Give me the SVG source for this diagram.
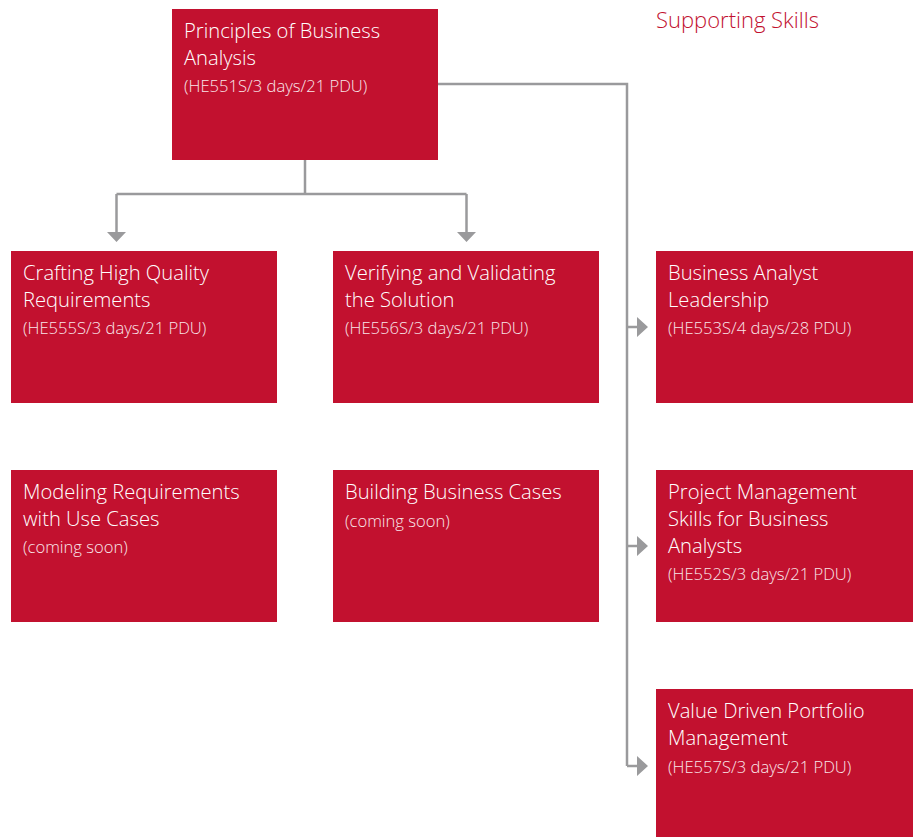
<svg xmlns="http://www.w3.org/2000/svg" width="913" height="837" viewBox="0 0 913 837">
<style>
.box{fill:#c2112f}
.t{font-family:"Open Sans","Liberation Sans",sans-serif;font-size:20.2px;fill:#ffffff;font-weight:300}
.s{font-family:"Open Sans","Liberation Sans",sans-serif;font-size:16.6px;fill:#f9e6ea;font-weight:300}
.h{font-family:"Open Sans","Liberation Sans",sans-serif;font-size:22px;fill:#c2112f;font-weight:300}
.ln{fill:none;stroke:#9a9a9c;stroke-width:2.5}
.ah{fill:#9a9a9c}
</style>
<rect width="913" height="837" fill="#ffffff"/>
<text class="h" x="656" y="28">Supporting Skills</text>
<g id="connectors">
<path class="ln" d="M305 160 V194 M116.5 194 H466.5 M116.5 194 V234 M466.5 194 V234"/>
<path class="ah" d="M107 232 H126 L116.5 242 Z M457 232 H476 L466.5 242 Z"/>
<path class="ln" d="M438 84 H627 V766 M627 327 H639 M627 546 H639 M627 766 H639"/>
<path class="ah" d="M637 317 L648 327 L637 337 Z M637 536 L648 546 L637 556 Z M637 756 L648 766 L637 776 Z"/>
</g>
<g id="n1"><rect class="box" x="172" y="9" width="266" height="151"/>
<text class="t" x="184" y="38">Principles of Business</text><text class="t" x="184" y="65">Analysis</text>
<text class="s" x="184" y="92">(HE551S/3 days/21 PDU)</text></g>
<g id="n2"><rect class="box" x="11" y="251" width="266" height="152"/>
<text class="t" x="23" y="280">Crafting High Quality</text><text class="t" x="23" y="307">Requirements</text>
<text class="s" x="23" y="334">(HE555S/3 days/21 PDU)</text></g>
<g id="n3"><rect class="box" x="333" y="251" width="266" height="152"/>
<text class="t" x="345" y="280">Verifying and Validating</text><text class="t" x="345" y="307">the Solution</text>
<text class="s" x="345" y="334">(HE556S/3 days/21 PDU)</text></g>
<g id="n4"><rect class="box" x="656" y="251" width="257" height="152"/>
<text class="t" x="668" y="280">Business Analyst</text><text class="t" x="668" y="307">Leadership</text>
<text class="s" x="668" y="334">(HE553S/4 days/28 PDU)</text></g>
<g id="n5"><rect class="box" x="11" y="470" width="266" height="152"/>
<text class="t" x="23" y="499">Modeling Requirements</text><text class="t" x="23" y="526">with Use Cases</text>
<text class="s" x="23" y="553">(coming soon)</text></g>
<g id="n6"><rect class="box" x="333" y="470" width="266" height="152"/>
<text class="t" x="345" y="499">Building Business Cases</text>
<text class="s" x="345" y="527">(coming soon)</text></g>
<g id="n7"><rect class="box" x="656" y="470" width="257" height="152"/>
<text class="t" x="668" y="499">Project Management</text><text class="t" x="668" y="526">Skills for Business</text><text class="t" x="668" y="553">Analysts</text>
<text class="s" x="668" y="580">(HE552S/3 days/21 PDU)</text></g>
<g id="n8"><rect class="box" x="656" y="689" width="257" height="148"/>
<text class="t" x="668" y="718">Value Driven Portfolio</text><text class="t" x="668" y="745">Management</text>
<text class="s" x="668" y="773">(HE557S/3 days/21 PDU)</text></g>
</svg>
